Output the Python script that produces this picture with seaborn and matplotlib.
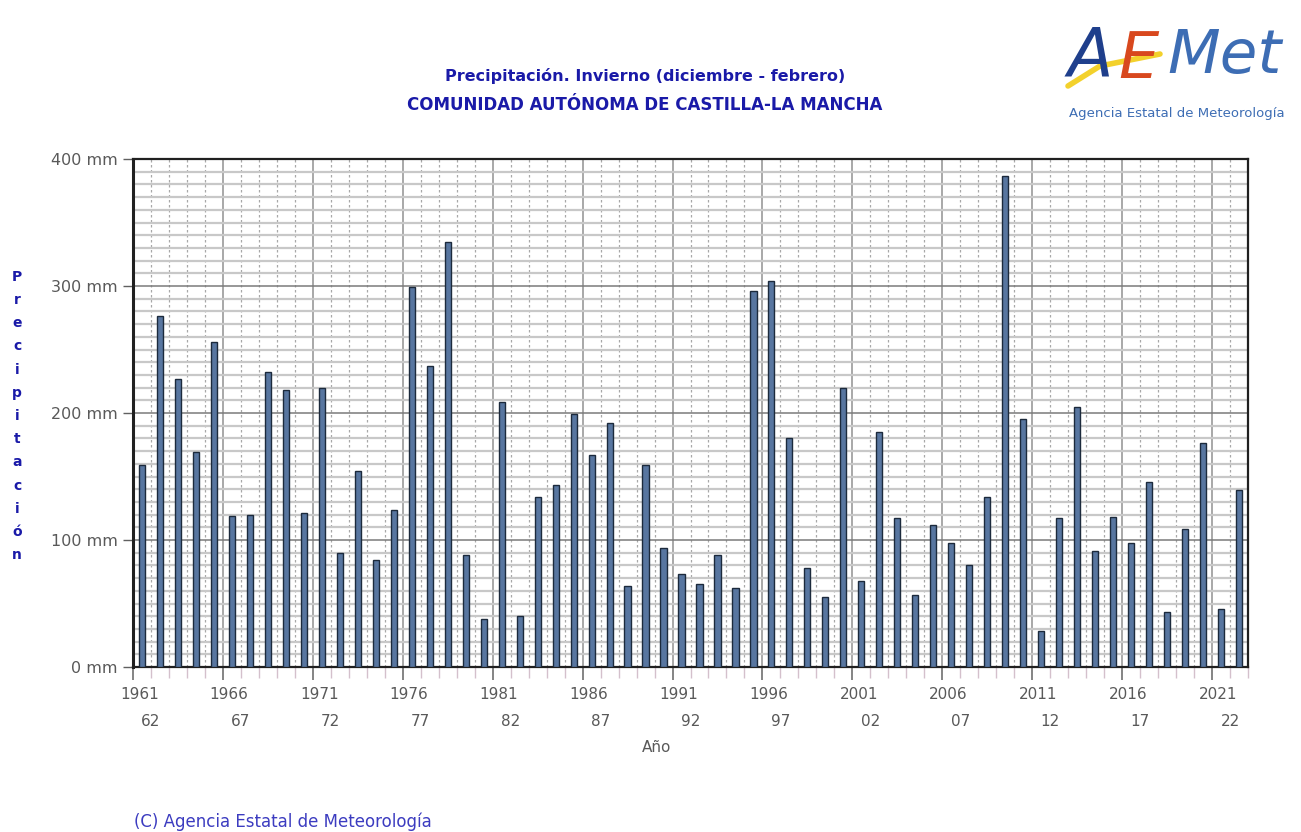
import numpy as np
import pandas as pd
import matplotlib
matplotlib.use("Agg")
import matplotlib.pyplot as plt
from matplotlib.lines import Line2D
import seaborn as sns

# ---- data -------------------------------------------------------------
seasons = [
    "1961-62", "1962-63", "1963-64", "1964-65", "1965-66", "1966-67", "1967-68",
    "1968-69", "1969-70", "1970-71", "1971-72", "1972-73", "1973-74", "1974-75",
    "1975-76", "1976-77", "1977-78", "1978-79", "1979-80", "1980-81", "1981-82",
    "1982-83", "1983-84", "1984-85", "1985-86", "1986-87", "1987-88", "1988-89",
    "1989-90", "1990-91", "1991-92", "1992-93", "1993-94", "1994-95", "1995-96",
    "1996-97", "1997-98", "1998-99", "1999-00", "2000-01", "2001-02", "2002-03",
    "2003-04", "2004-05", "2005-06", "2006-07", "2007-08", "2008-09", "2009-10",
    "2010-11", "2011-12", "2012-13", "2013-14", "2014-15", "2015-16", "2016-17",
    "2017-18", "2018-19", "2019-20", "2020-21", "2021-22", "2022-23",
]
precip_mm = [
    159, 276, 227, 169, 256, 119, 120, 232, 218, 121,
    220, 90, 154, 84, 124, 299, 237, 335, 88, 38,
    209, 40, 134, 143, 199, 167, 192, 64, 159, 94,
    73, 65, 88, 62, 296, 304, 180, 78, 55, 220,
    68, 185, 117, 57, 112, 98, 80, 134, 387, 195,
    28, 117, 205, 91, 118, 98, 146, 43, 109, 176,
    46, 139,
]
label_top = ["1961", "1966", "1971", "1976", "1981", "1986", "1991",
             "1996", "2001", "2006", "2011", "2016", "2021"]
label_bottom = ["62", "67", "72", "77", "82", "87", "92",
                "97", "02", "07", "12", "17", "22"]
y_ticks = [0, 100, 200, 300, 400]
y_tick_labels = ["0 mm", "100 mm", "200 mm", "300 mm", "400 mm"]

df = pd.DataFrame({"season": seasons, "precip": precip_mm})

# ---- figure -----------------------------------------------------------
sns.set_style("white")
plt.rcParams["font.family"] = ["DejaVu Sans"]

W, H = 1301, 832
fig = plt.figure(figsize=(W / 100, H / 100), dpi=100)
ax = fig.add_axes([133 / W, 1 - 667 / H, (1248 - 133) / W, (667 - 159) / H])

sns.barplot(data=df, x="season", y="precip", ax=ax, color="#5876a0",
            saturation=1, width=0.34, edgecolor="#1c2a3c", linewidth=1.0,
            zorder=3)

n = len(seasons)
ax.set_xlim(-0.5, n - 0.5)
ax.set_ylim(0, 400)
ax.set_axisbelow(True)

# y axis
ax.set_yticks(y_ticks)
ax.set_yticklabels(y_tick_labels, color="#595959", fontsize=11.5)
ax.set_yticks(np.arange(0, 401, 10), minor=True)
ax.tick_params(axis="y", which="major", length=7, width=1, color="#606060", pad=4, left=True)
ax.tick_params(axis="y", which="minor", length=0)

# x axis: gridlines at category boundaries
major_x = np.arange(-0.5, n - 0.4, 5)
minor_x = np.arange(-0.5, n, 1)
ax.set_xticks(major_x)
ax.set_xticklabels([""] * len(major_x))
ax.set_xticks(minor_x, minor=True)
ax.tick_params(axis="x", which="major", length=9, width=1.2, color="#707070", bottom=True)
ax.tick_params(axis="x", which="minor", length=8, width=1, color="#d4c0cc", bottom=True)

ax.grid(axis="y", which="minor", color="#c8c8c8", linewidth=1.6, linestyle="-")
ax.grid(axis="y", which="major", color="#7a7a7a", linewidth=1.1, linestyle="-")
ax.grid(axis="x", which="minor", color="#a8a8a8", linewidth=0.9, linestyle=(0, (2, 2)))
ax.grid(axis="x", which="major", color="#9a9a9a", linewidth=1.2, linestyle="-")

for s in ax.spines.values():
    s.set_visible(True)
    s.set_color("#202020")
    s.set_linewidth(1.6)
ax.spines["left"].set_linewidth(2.2)

ax.set_xlabel("")
ax.set_ylabel("")

# two-row category labels
for i, (t, b) in enumerate(zip(label_top, label_bottom)):
    idx = i * 5
    ax.text(idx - 0.15, -0.055, t, transform=ax.get_xaxis_transform(),
            ha="center", va="center", fontsize=11, color="#595959")
    ax.text(idx + 0.5, -0.108, b, transform=ax.get_xaxis_transform(),
            ha="center", va="center", fontsize=11, color="#595959")

fig.text(657 / W, 1 - 748 / H, "Año", ha="center", va="center",
         fontsize=11, color="#595959")

# vertical stacked y-axis title
fig.text(17 / W, 1 - 416 / H, "\n".join("Precipitación"), ha="center", va="center",
         fontsize=10, fontweight="bold", color="#1a1aa8", linespacing=1.84)

# title
fig.text(645 / W, 1 - 76 / H, "Precipitación. Invierno (diciembre - febrero)",
         ha="center", va="center", fontsize=11.5, fontweight="bold", color="#1a1aa8")
fig.text(645 / W, 1 - 105 / H, "COMUNIDAD AUTÓNOMA DE CASTILLA-LA MANCHA",
         ha="center", va="center", fontsize=12, fontweight="bold", color="#1a1aa8")

# footer
fig.text(134 / W, 1 - 822 / H, "(C) Agencia Estatal de Meteorología",
         ha="left", va="center", fontsize=12, color="#3c3cc0")

# logo (approximation)
fig.text(1090 / W, 1 - 58 / H, "A", ha="center", va="center", fontsize=48,
         color="#1f3f8c", fontstyle="italic")
fig.text(1138 / W, 1 - 60 / H, "E", ha="center", va="center", fontsize=46,
         color="#d8481e", fontstyle="italic")
fig.text(1225 / W, 1 - 56 / H, "Met", ha="center", va="center", fontsize=44,
         color="#3d6db4", fontstyle="italic")
fig.add_artist(Line2D([1068 / W, 1100 / W, 1160 / W], [1 - 86 / H, 1 - 66 / H, 1 - 54 / H],
                      transform=fig.transFigure, color="#f3d12c", linewidth=4,
                      solid_capstyle="round"))
fig.text(1177 / W, 1 - 114 / H, "Agencia Estatal de Meteorología", ha="center",
         va="center", fontsize=9.5, color="#3d6db4")

fig.savefig("out.png", dpi=100)
